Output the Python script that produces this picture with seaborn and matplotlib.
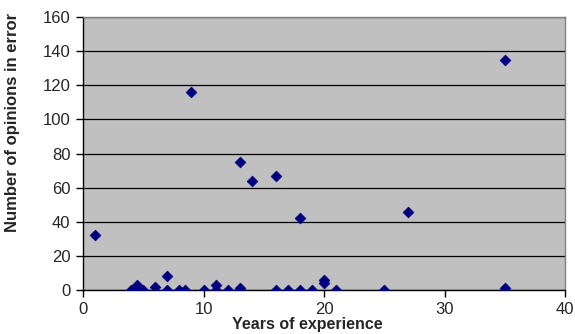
import matplotlib
matplotlib.use("Agg")
import matplotlib.pyplot as plt
import seaborn as sns
import pandas as pd

years = [1, 4, 4.5, 5, 6, 7, 7, 8, 8.5, 9, 10, 11, 11, 12, 13, 13, 13, 14,
         16, 16, 17, 18, 18, 19, 20, 20, 21, 25, 27, 35, 35]
opinions = [32, 0, 3, 0, 2, 8, 0, 0, 0, 116, 0, 0, 3, 0, 75, 0, 1, 64,
            67, 0, 0, 42, 0, 0, 6, 4, 0, 0, 46, 135, 1]
x_ticks = [0, 10, 20, 30, 40]
y_ticks = [0, 20, 40, 60, 80, 100, 120, 140, 160]

df = pd.DataFrame({"years": years, "opinions": opinions})

sns.set_style("white")
plt.rcParams["font.family"] = ["Liberation Sans", "DejaVu Sans"]

fig = plt.figure(figsize=(5.75, 3.34), dpi=100)
ax = fig.add_axes([83/575, 44/334, 482/575, 273/334])
ax.set_facecolor("#C0C0C0")

sns.scatterplot(data=df, x="years", y="opinions", marker="D", s=30,
                color="#000080", edgecolor="#000080", linewidth=0.5, ax=ax, zorder=3)

ax.set_xlim(0, 40)
ax.set_ylim(0, 160)
ax.set_xticks(x_ticks)
ax.set_yticks(y_ticks)
ax.yaxis.grid(True, color="black", linewidth=0.9)
ax.xaxis.grid(False)
ax.set_axisbelow(True)

for s in ["left", "bottom"]:
    ax.spines[s].set_color("black")
    ax.spines[s].set_linewidth(1.0)
for s in ["top", "right"]:
    ax.spines[s].set_color("#808080")
    ax.spines[s].set_linewidth(1.0)

ax.tick_params(axis="x", direction="out", length=5, width=1, color="black",
               pad=4, labelsize=12)
ax.tick_params(axis="y", direction="out", length=5, width=1, color="black",
               pad=4, labelsize=12)
ax.tick_params(bottom=True, left=True)

ax.set_xlabel("Years of experience", fontsize=11.5, fontweight="bold")
ax.xaxis.set_label_coords(0.465, -0.1)
ax.set_ylabel("Number of opinions in error", fontsize=12, fontweight="bold")
ax.yaxis.set_label_coords(-0.13, 0.615)

fig.savefig("out.png", dpi=100)
